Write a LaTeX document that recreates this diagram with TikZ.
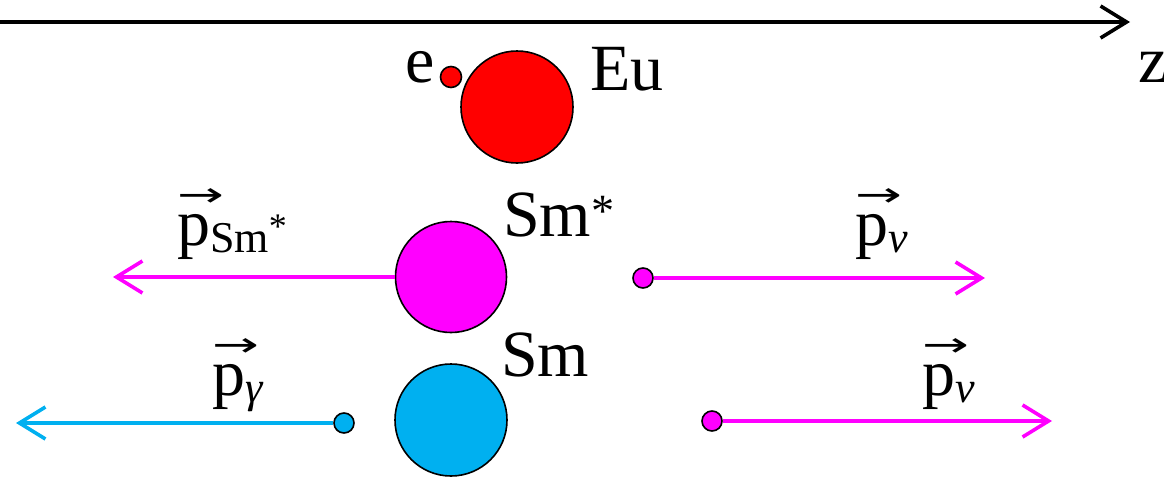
\documentclass[tikz,border=0pt]{standalone}
\usepackage{graphicx}
\usepackage{fontspec}
\setmainfont{Liberation Serif}
\newfontfamily\arrowfont{DejaVu Sans}
\usetikzlibrary{arrows.meta}
\definecolor{cyanb}{HTML}{00B0F0}
\definecolor{mag}{HTML}{FF00FF}
\definecolor{redb}{HTML}{FF0000}
\newcommand{\pvec}{\rlap{\raisebox{39pt}{\scalebox{1.4}[0.85]{\arrowfont\fontsize{40}{40}\selectfont →}}}p}
\newcommand{\psub}[1]{\pvec\raisebox{-7pt}{\fontsize{44}{44}\selectfont #1}}
\begin{document}
\begin{tikzpicture}[x=1pt,y=-1pt,
  ball/.style={circle,draw=black,line width=1.6pt,inner sep=0pt,minimum size=#1},
  vecarrow/.style={line width=3.6pt,-{Straight Barb[length=26pt,width=32pt,line width=3.6pt]}},
  lbl/.style={font=\fontsize{66}{70}\selectfont,inner sep=0pt,anchor=base west},
  plbl/.style={font=\fontsize{66}{70}\selectfont,inner sep=0pt,anchor=base west}]
\useasboundingbox (0,0) rectangle (1164,477);
% z axis
\coordinate (z0) at (0,22);
\coordinate (z1) at (1130,22);
\draw[vecarrow,black] (z0) -- (z1);
\node[lbl] (zl) at (1138,82) {z};
% Eu and electron
\node[ball=112pt,fill=redb] (eu) at (517,107) {};
\node[ball=21pt,fill=redb] (el) at (451,77) {};
\node[lbl] (elabel) at (405,82) {e};
\node[lbl] (eulabel) at (590,90) {Eu};
% Sm*
\node[ball=111pt,fill=mag] (smstar) at (451,277) {};
\node[lbl] (smstarlabel) at (503,236) {Sm\textsuperscript{*}};
\coordinate (a1) at (113,277);
\draw[vecarrow,mag] (smstar.west) -- (a1);
\node[plbl] (psm) at (177,245) {\psub{Sm\raisebox{14pt}{\fontsize{36}{36}\selectfont *}}};
\node[ball=20pt,fill=mag] (nu1) at (643,278) {};
\coordinate (a2) at (985,278);
\draw[vecarrow,mag] (nu1.east) -- (a2);
\node[plbl] (pnu1) at (855,245) {\psub{\itshape ν}};
% Sm
\node[ball=112pt,fill=cyanb] (sm) at (451,420) {};
\node[lbl] (smlabel) at (501,376) {Sm};
\node[ball=20pt,fill=cyanb] (gam) at (344,423) {};
\coordinate (a3) at (16,423);
\draw[vecarrow,cyanb] (gam.west) -- (a3);
\node[plbl] (pgam) at (212,395) {\psub{\itshape γ}};
\node[ball=20pt,fill=mag] (nu2) at (712,421) {};
\coordinate (a4) at (1052,421);
\draw[vecarrow,mag] (nu2.east) -- (a4);
\node[plbl] (pnu2) at (922,395) {\psub{\itshape ν}};
\end{tikzpicture}
\end{document}
